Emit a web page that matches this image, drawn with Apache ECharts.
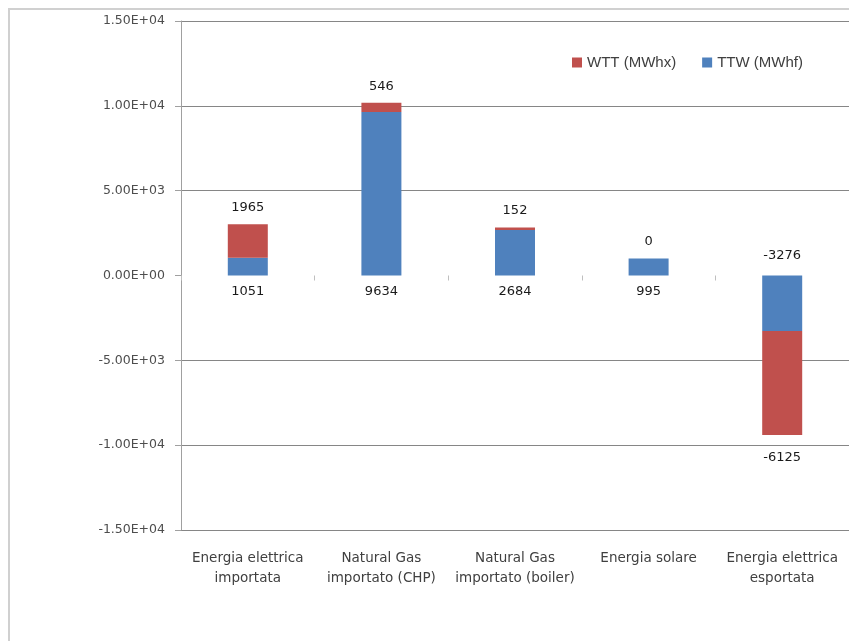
<!DOCTYPE html>
<html>
<head>
<meta charset="utf-8">
<script src="https://cdn.jsdelivr.net/npm/echarts@6/dist/echarts.min.js"></script>
<style>
  html, body { margin: 0; padding: 0; background: #fff; overflow: hidden; }
  #frame {
    position: absolute; left: 8px; top: 8px; width: 1000px; height: 1000px;
    border: 2px solid #d0d0d0; box-sizing: border-box;
  }
  #chart { position: absolute; left: 0; top: 0; width: 849px; height: 641px; }
</style>
</head>
<body>
<div id="frame"></div>
<div id="chart"></div>
<script>
// categories and values
const categories = [
  'Energia elettrica\nimportata',
  'Natural Gas\nimportato (CHP)',
  'Natural Gas\nimportato (boiler)',
  'Energia solare',
  'Energia elettrica\nesportata'
]
const ttwValues = [1051, 9634, 2684, 995, -3276]
const wttValues = [1965, 546, 152, 0, -6125]
const yMin = -15000
const yMax = 15000
const yStep = 5000

// 1.50E+04 style tick labels
const sciLabel = (v) => {
  if (v === 0) return '0.00E+00'
  const exp = Math.floor(Math.log10(Math.abs(v)))
  const mant = (v / Math.pow(10, exp)).toFixed(2)
  const e = (exp < 0 ? '-' : '+') + String(Math.abs(exp)).padStart(2, '0')
  return mant + 'E' + e
}

const labelFont = {
  fontFamily: 'DejaVu Sans',
  fontSize: 13,
  color: '#1a1a1a',
  formatter: '{c}'
}

// label goes outside the stack: above for positive, below for negative
const ttwData = ttwValues.map(v => ({
  value: v,
  label: { show: true, position: v >= 0 ? 'bottom' : 'top', distance: v >= 0 ? 10 : 13, ...labelFont }
}))
const wttData = wttValues.map(v => ({
  value: v,
  label: { show: true, position: v >= 0 ? 'top' : 'bottom', distance: v >= 0 ? 10 : 16, ...labelFont }
}))

const gridColors = ['#868686', '#868686', '#868686', 'rgba(0,0,0,0)', '#868686', '#868686', '#868686']

const chart = echarts.init(document.getElementById('chart'), null, { renderer: 'canvas' })
chart.setOption({
  animation: false,
  backgroundColor: 'transparent',
  grid: { left: 181, top: 21, right: -13, bottom: 111, containLabel: false },
  legend: {
    data: ['WTT (MWhx)', 'TTW (MWhf)'],
    left: 567,
    top: 50,
    itemWidth: 10,
    itemHeight: 10,
    itemGap: 26,
    icon: 'rect',
    textStyle: { fontFamily: 'Liberation Sans', fontSize: 15, color: '#404040' }
  },
  xAxis: [{
    type: 'category',
    data: categories,
    position: 'bottom',
    axisLine: { show: false, onZero: false },
    axisTick: { show: false },
    splitLine: { show: false },
    axisLabel: {
      interval: 0,
      margin: 18,
      fontFamily: 'DejaVu Sans',
      fontSize: 13.5,
      lineHeight: 20,
      color: '#404040'
    }
  }, {
    type: 'category',
    data: categories,
    position: 'bottom',
    axisLine: { show: false, onZero: true },
    axisTick: { show: true, length: 5, lineStyle: { color: '#bfbfbf' } },
    axisLabel: { show: false },
    splitLine: { show: false }
  }],
  yAxis: {
    type: 'value',
    min: yMin,
    max: yMax,
    interval: yStep,
    axisLine: { show: true, lineStyle: { color: '#a0a0a0' } },
    axisTick: { show: true, length: 6, lineStyle: { color: '#a0a0a0' } },
    splitLine: { show: true, lineStyle: { color: gridColors, width: 1 } },
    axisLabel: {
      margin: 16,
      fontFamily: 'DejaVu Sans',
      fontSize: 12.5,
      color: '#4d4d4d',
      formatter: sciLabel
    }
  },
  series: [{
    name: 'TTW (MWhf)',
    type: 'bar',
    stack: 'total',
    barWidth: 40,
    itemStyle: { color: '#4F81BD' },
    data: ttwData
  }, {
    name: 'WTT (MWhx)',
    type: 'bar',
    stack: 'total',
    barWidth: 40,
    itemStyle: { color: '#C0504D' },
    data: wttData
  }]
})
</script>
</body>
</html>
